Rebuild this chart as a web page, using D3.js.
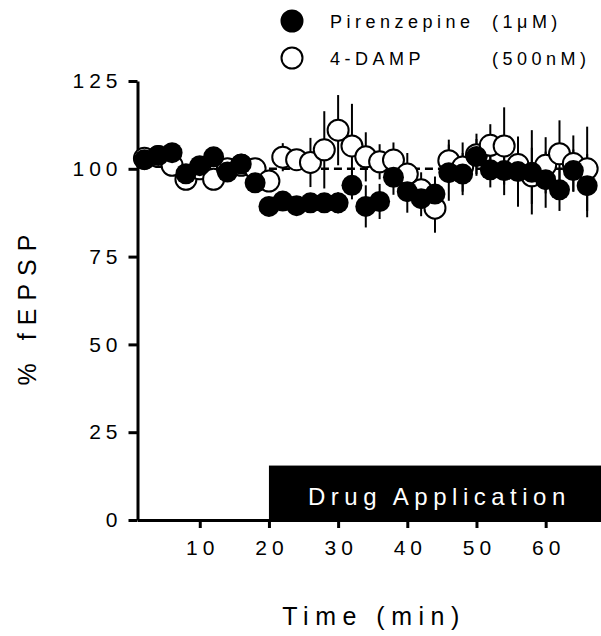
<!DOCTYPE html>
<html>
<head>
<meta charset="UTF-8">
<script src="https://cdn.jsdelivr.net/npm/d3@7"></script>
<style>
  body { margin: 0; background: #fff; }
  text { font-family: Arial, 'Liberation Sans', sans-serif; fill: #000; }
</style>
</head>
<body>
<div id="chart"></div>
<script>
// time points (min)
var times = [2, 4, 6, 8, 10, 12, 14, 16, 18, 20, 22, 24, 26, 28, 30, 32, 34,
             36, 38, 40, 42, 44, 46, 48, 50, 52, 54, 56, 58, 60, 62, 64, 66];

// Pirenzepine (1uM), filled
var pirMean = [102.6, 103.8, 104.6, 98.6, 100.9, 103.4, 99.1, 101.4, 96.0, 89.3, 90.8,
               89.5, 90.3, 90.3, 90.3, 95.3, 89.3, 90.7, 97.6, 93.5, 91.5, 92.8, 98.9,
               98.5, 103.5, 99.7, 99.5, 99.2, 99.0, 96.9, 94.0, 99.5, 95.2];
var pirSem = [1.5, 2, 1.5, 1.5, 1.5, 1.5, 1.5, 2, 2, 2, 2, 2, 2, 2, 3, 4, 6,
              5, 5, 6, 5, 5, 8, 6, 5, 5, 7, 10, 12, 8, 6, 6, 9];

// 4-DAMP (500nM), open
var dampMean = [103, 103.5, 101, 97, 100, 97, 100, 101, 100, 96.5, 103.3, 102.6,
                101.8, 105.4, 111, 106.5, 103.4, 102, 102.5, 98.5, 94, 88.8, 102.3,
                100.5, 104, 106.7, 106.5, 101.2, 98, 101, 104.3, 101.5, 100];
var dampSem = [2, 2, 1.5, 1.5, 1.5, 1.5, 1.5, 1.5, 2.5, 2, 4, 3, 7, 11, 10, 12, 7,
               5, 5, 6, 5, 7, 6, 7, 6, 6, 11, 7, 8, 8, 9.5, 8, 12];

var xTicks = [10, 20, 30, 40, 50, 60];
var yTicks = [0, 25, 50, 75, 100, 125];
var drugStart = 20;

var width = 601, height = 636;
var svg = d3.select('#chart').append('svg')
    .attr('width', width)
    .attr('height', height);

var x = d3.scaleLinear().domain([1, 68]).range([137.5, 601]);
var y = d3.scaleLinear().domain([0, 125]).range([520, 81]);

// drug application bar
svg.append('rect')
    .attr('x', x(drugStart))
    .attr('y', y(15.5))
    .attr('width', x(68) - x(drugStart))
    .attr('height', y(0) - y(15.5))
    .attr('fill', '#000');
svg.append('text')
    .attr('x', 308)
    .attr('y', 505)
    .style('font-size', '24px')
    .style('letter-spacing', '5.5px')
    .style('fill', '#fff')
    .text('Drug Application');

// dashed 100% line
svg.append('line')
    .attr('x1', x(drugStart)).attr('x2', x(66))
    .attr('y1', y(100)).attr('y2', y(100))
    .attr('stroke', '#000')
    .attr('stroke-width', 2.5)
    .attr('stroke-dasharray', '8,5');

// axes
var xAxis = svg.append('g')
    .attr('transform', 'translate(0,' + y(0) + ')')
    .call(d3.axisBottom(x).tickValues(xTicks).tickSize(8).tickPadding(12).tickSizeOuter(0));
var yAxis = svg.append('g')
    .attr('transform', 'translate(' + x(1) + ',0)')
    .call(d3.axisLeft(y).tickValues(yTicks).tickSize(9).tickPadding(10).tickSizeOuter(0));

[xAxis, yAxis].forEach(function(a) {
    a.select('.domain').attr('stroke-width', 3);
    a.selectAll('.tick line').attr('stroke-width', 3);
    a.selectAll('.tick text')
        .style('font-size', '21px')
        .style('letter-spacing', '5px')
        .attr('font-family', null);
});
xAxis.selectAll('.tick text').attr('dx', '2.5px');
yAxis.selectAll('.tick text').attr('dx', '4px');

// error bars
function errBars(mean, sem) {
    svg.append('g').selectAll('line')
        .data(times)
        .enter().append('line')
        .attr('x1', function(d) { return x(d); })
        .attr('x2', function(d) { return x(d); })
        .attr('y1', function(d, i) { return y(mean[i] + sem[i]); })
        .attr('y2', function(d, i) { return y(mean[i] - sem[i]); })
        .attr('stroke', '#000')
        .attr('stroke-width', 2);
}
errBars(dampMean, dampSem);
errBars(pirMean, pirSem);

var r = 10.5;
// open circles first, filled on top
svg.append('g').selectAll('circle')
    .data(times)
    .enter().append('circle')
    .attr('cx', function(d) { return x(d); })
    .attr('cy', function(d, i) { return y(dampMean[i]); })
    .attr('r', r)
    .attr('fill', '#fff')
    .attr('stroke', '#000')
    .attr('stroke-width', 2);
svg.append('g').selectAll('circle')
    .data(times)
    .enter().append('circle')
    .attr('cx', function(d) { return x(d); })
    .attr('cy', function(d, i) { return y(pirMean[i]); })
    .attr('r', r)
    .attr('fill', '#000');

// legend
var legend = [
    {name: 'Pirenzepine', conc: '(1\u03BCM)', fill: '#000', cy: 21},
    {name: '4-DAMP', conc: '(500nM)', fill: '#fff', cy: 58}
];
var lg = svg.append('g').selectAll('g')
    .data(legend)
    .enter().append('g');
lg.append('circle')
    .attr('cx', 292)
    .attr('cy', function(d) { return d.cy; })
    .attr('r', r)
    .attr('fill', function(d) { return d.fill; })
    .attr('stroke', '#000')
    .attr('stroke-width', 2);
lg.append('text')
    .attr('x', 330)
    .attr('y', function(d) { return d.cy + 6.5; })
    .style('font-size', '18px')
    .style('letter-spacing', '4.5px')
    .text(function(d) { return d.name; });
lg.append('text')
    .attr('x', 492)
    .attr('y', function(d) { return d.cy + 6.5; })
    .style('font-size', '18px')
    .style('letter-spacing', '4.5px')
    .text(function(d) { return d.conc; });

// axis titles
svg.append('text')
    .attr('x', 374)
    .attr('y', 625)
    .attr('text-anchor', 'middle')
    .style('font-size', '25px')
    .style('letter-spacing', '6.5px')
    .text('Time (min)');
svg.append('text')
    .attr('transform', 'translate(36,306) rotate(-90)')
    .attr('text-anchor', 'middle')
    .style('font-size', '25px')
    .style('letter-spacing', '8px')
    .text('% fEPSP');
</script>
</body>
</html>
